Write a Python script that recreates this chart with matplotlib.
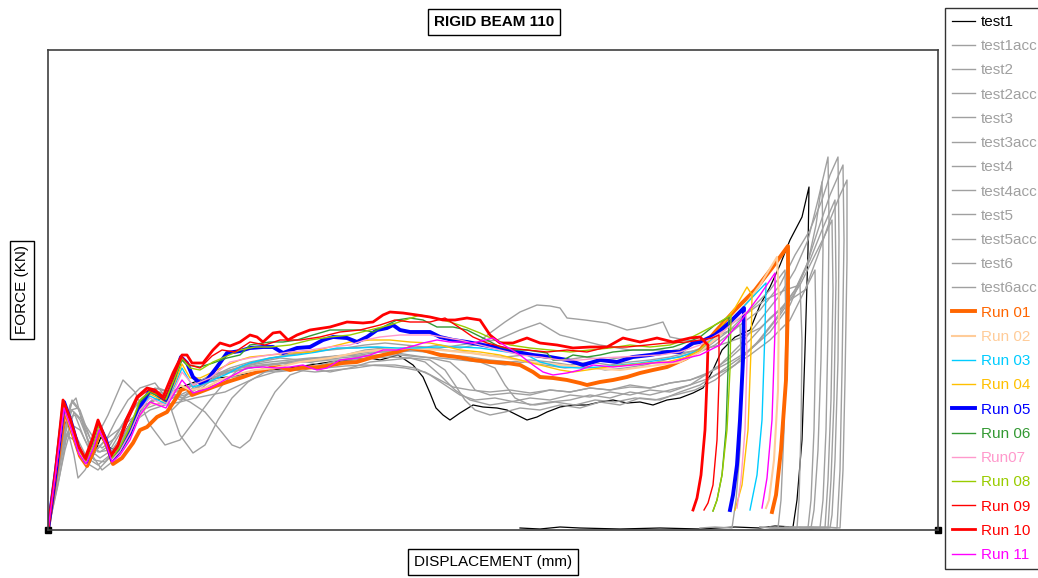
import matplotlib
matplotlib.use('Agg')
import numpy as np
import matplotlib.pyplot as plt

plt.rcParams['font.family'] = ['Liberation Sans', 'DejaVu Sans']

# displacement / force pairs (arbitrary units, origin bottom-left)
test1 = [(0,0),(6,35),(12,75),(18,108),(24,98),(31,78),(40,64),(47,78),(53,93),(60,83),(68,80),(77,98),(87,115),
         (97,125),(107,130),(117,132),(127,140),(139,145),(152,150),(167,152),(182,153),(202,157),(222,160),(242,162),
         (262,165),(282,168),(302,170),(322,172),(332,170),(350,175),(365,165),(375,153),(382,137),(388,122),(395,115),
         (402,110),(412,117),(425,125),(435,123),(449,122),(459,120),(469,115),(479,110),(489,113),(499,118),(512,123),
         (525,125),(539,125),(552,128),(565,130),(579,127),(592,128),(605,125),(619,130),(632,132),(645,137),(655,142),
         (664,158),(674,180),(687,193),(702,200),(712,225),(722,243),(732,265),(742,290),(754,313),(761,343),(760,280),
         (757,180),(754,90),(749,30),(745,3),(727,4),(712,2),(687,3),(652,1),(612,2),(572,1),(532,2),(512,3),(492,1),(472,2)]
test1acc = [(0,0),(8,50),(15,90),(22,125),(28,132),(35,105),(44,75),(54,60),(64,68),(74,90),(84,110),(94,128),(104,138),
            (114,132),(124,120),(134,130),(147,145),(162,155),(182,160),(202,165),(222,168),(242,170),(262,172),(282,173),
            (302,175),(322,178),(342,178),(362,175),(382,172),(402,168),(417,155),(427,140),(442,135),(462,137),(482,135),
            (502,140),(522,138),(542,142),(562,140),(582,145),(602,142),(622,147),(642,150),(657,155),(672,165),(692,185),
            (712,210),(732,235),(747,260),(760,290),(770,330),(780,373),(781,310),(780,200),(778,100),(775,30),(772,2),
            (752,3),(732,1),(712,3)]
test2 = [(0,0),(10,45),(18,90),(26,118),(34,110),(47,90),(60,115),(75,150),(87,138),(102,105),(117,85),(132,90),(147,110),
         (162,130),(177,148),(192,162),(212,168),(232,172),(252,170),(272,165),(292,170),(312,173),(332,175),(352,178),
         (372,180),(392,182),(412,185),(432,188),(449,190),(472,200),(492,207),(512,195),(532,190),(552,185),(582,180),
         (612,180),(632,177),(652,180),(672,185),(692,192),(712,202),(732,220),(747,240),(760,268),(768,305),(774,348),
         (775,280),(773,170),(770,80),(766,20),(763,2),(742,3),(722,2)]
test2acc = [(0,0),(9,52),(17,100),(24,128),(31,120),(40,90),(50,78),(62,80),(74,100),(86,122),(98,134),(110,142),(122,138),
            (134,132),(147,140),(162,150),(177,158),(192,162),(212,165),(232,167),(252,170),(272,172),(292,174),(312,175),
            (332,178),(352,180),(372,182),(392,185),(412,182),(427,185),(442,197),(457,208),(472,218),(489,225),(502,224),
            (512,222),(519,212),(537,210),(559,207),(579,200),(597,203),(615,208),(622,193),(637,190),(652,188),(672,195),
            (692,205),(712,220),(732,245),(747,275),(762,300),(774,330),(782,355),(790,373),(791,290),(790,170),(787,70),
            (784,15),(782,2),(762,3),(742,2),(722,3)]
test3 = [(0,0),(10,55),(18,95),(26,90),(37,68),(50,60),(64,75),(80,100),(97,125),(112,132),(127,135),(142,128),(157,118),
         (172,100),(184,85),(192,82),(202,90),(214,115),(227,138),(242,155),(262,162),(282,158),(302,162),(322,168),
         (342,170),(362,172),(377,168),(392,155),(407,140),(422,130),(442,125),(462,128),(482,132),(502,130),(522,135),
         (542,133),(562,138),(582,135),(602,140),(622,138),(642,145),(662,152),(682,162),(702,175),(722,190),(742,210),
         (757,240),(770,275),(782,310),(792,335),(799,350),(799,270),(797,150),(795,60),(792,2),(777,3),(762,1)]
test3acc = [(0,0),(8,48),(16,90),(23,120),(30,122),(38,100),(48,80),(58,90),(68,110),(80,130),(92,142),(107,147),(120,130),
            (132,95),(145,77),(157,85),(170,110),(184,132),(200,148),(217,158),(237,165),(257,170),(277,173),(297,175),
            (317,180),(337,182),(357,180),(377,178),(397,175),(417,172),(437,168),(457,165),(477,168),(497,165),(517,162),
            (537,164),(557,160),(577,162),(597,165),(617,170),(637,175),(652,178),(667,185),(680,195),(692,205),(694,150),
            (692,80),(688,30),(684,2),(667,3),(652,2)]
test4 = [(0,0),(9,42),(17,80),(24,105),(32,100),(42,80),(52,72),(64,80),(77,98),(90,118),(104,130),(119,135),(134,140),
         (149,148),(164,155),(182,158),(202,162),(222,165),(242,168),(262,168),(282,170),(302,170),(322,172),(342,173),
         (362,172),(382,170),(397,160),(407,145),(417,130),(427,120),(442,115),(457,118),(472,122),(492,120),(512,125),
         (532,122),(552,128),(572,125),(592,132),(612,130),(632,138),(652,145),(672,158),(692,172),(712,190),(732,215),
         (752,245),(767,275),(777,295),(784,310),(785,240),(783,130),(780,50),(777,2),(757,2),(737,3)]
test4acc = [(0,0),(9,54),(17,102),(24,130),(32,120),(42,92),(54,82),(67,92),(80,115),(94,132),(107,142),(120,138),(132,130),
            (145,135),(160,147),(177,158),(197,165),(217,170),(237,175),(257,178),(277,180),(297,182),(317,185),(337,187),
            (357,185),(377,183),(397,180),(417,178),(437,175),(457,173),(477,175),(497,172),(517,170),(537,173),(557,170),
            (577,173),(597,175),(617,178),(637,182),(657,190),(677,202),(697,215),(717,230),(737,240),(752,245),(754,190),
            (753,100),(751,30),(749,2),(732,2)]
test5 = [(0,0),(7,40),(14,82),(20,112),(27,115),(36,92),(46,70),(57,68),(69,82),(82,102),(95,120),(109,132),(124,138),
         (140,142),(156,150),(172,155),(192,160),(212,164),(232,166),(252,168),(272,170),(292,172),(312,174),(332,175),
         (352,175),(372,173),(392,172),(412,170),(432,168),(447,162),(457,145),(467,132),(482,125),(502,128),(522,130),
         (542,135),(562,132),(582,138),(602,135),(622,140),(642,145),(662,158),(682,172),(702,190),(722,212),(742,230),
         (757,240),(767,260),(768,200),(766,100),(763,30),(760,2),(742,3)]
test5acc = [(0,0),(9,50),(17,98),(24,120),(32,110),(42,85),(52,78),(62,85),(74,105),(87,125),(100,135),(112,138),(124,132),
            (137,135),(152,145),(167,155),(182,162),(202,168),(222,172),(242,175),(262,178),(282,180),(302,182),(322,183),
            (342,182),(362,180),(382,178),(402,175),(422,173),(442,170),(462,168),(482,170),(502,168),(522,165),(542,168),
            (562,165),(582,168),(602,170),(622,173),(642,178),(662,185),(682,200),(702,220),(722,240),(737,260),(738,200),
            (736,100),(733,30),(730,2),(712,3)]
test6 = [(0,0),(8,50),(15,90),(20,98),(26,75),(30,52),(37,60),(47,78),(57,90),(70,100),(82,110),(94,120),(107,125),
         (120,130),(132,135),(147,142),(162,148),(180,152),(197,155),(217,158),(237,160),(257,162),(277,162),(297,164),
         (317,165),(337,164),(357,162),(377,158),(392,150),(405,143),(422,140),(442,138),(462,140),(482,137),(502,140),
         (522,138),(542,142),(562,140),(582,143),(602,142),(622,147),(642,150),(662,158),(682,168),(702,180),(722,198),
         (742,225),(757,260),(770,300),(782,335),(795,365),(796,290),(794,160),(792,60),(789,2),(772,3),(752,2)]
test6acc = [(0,0),(8,45),(16,85),(22,105),(29,92),(39,72),(50,65),(62,75),(75,92),(88,110),(102,120),(117,125),(132,128),
            (147,132),(162,135),(177,138),(192,145),(207,152),(227,158),(247,160),(267,158),(287,160),(307,162),(327,165),
            (347,165),(367,162),(382,155),(397,145),(412,135),(427,130),(447,132),(467,128),(487,125),(507,128),(527,125),
            (547,130),(567,128),(587,132),(607,130),(627,135),(647,140),(667,150),(687,165),(707,185),(727,210),(747,240),
            (762,270),(774,300),(787,330),(788,250),(786,130),(783,50),(780,2),(762,3),(742,2)]

run01 = [(0,0),(8,55),(17,120),(24,98),(32,74),(39,64),(46,80),(52,100),(59,84),(65,66),(74,72),(85,87),(92,100),(99,103),
         (109,113),(119,118),(127,130),(133,140),(139,142),(144,135),(152,138),(165,143),(179,148),(195,153),(209,158),
         (222,162),(232,163),(242,160),(252,162),(272,163),(295,167),(309,168),(322,172),(335,175),(349,178),(362,182),
         (375,180),(392,175),(409,173),(425,170),(442,168),(459,167),(472,165),(485,158),(492,153),(505,152),(519,150),
         (532,147),(539,145),(552,148),(565,150),(579,153),(592,157),(605,160),(619,163),(639,172),(652,180),(667,198),
         (687,220),(707,240),(724,262),(740,284),(740,230),(738,150),(733,80),(728,35),(724,18)]
run02 = [(0,0),(8,58),(16,122),(23,102),(31,77),(38,66),(45,82),(51,102),(58,87),(64,69),(72,77),(82,93),(92,115),(102,127),
         (112,125),(122,132),(132,145),(142,140),(157,142),(172,150),(187,155),(207,160),(227,162),(252,168),(282,172),
         (312,178),(332,180),(362,182),(392,180),(422,177),(452,173),(482,168),(512,165),(542,162),(572,160),(602,164),
         (632,168),(652,178),(672,195),(692,218),(712,245),(729,273),(731,230),(730,140),(726,70),(721,30),(718,22)]
run03 = [(0,0),(8,60),(16,124),(23,104),(31,78),(38,67),(45,83),(51,103),(58,88),(64,70),(72,80),(82,98),(92,122),(102,134),
         (110,130),(118,126),(127,145),(134,162),(145,143),(155,146),(165,150),(179,156),(192,163),(202,167),(222,172),
         (249,175),(269,178),(289,182),(309,182),(329,183),(349,182),(369,182),(389,183),(412,183),(432,182),(459,178),
         (479,175),(492,168),(512,163),(532,162),(552,163),(572,165),(592,167),(612,170),(632,173),(652,180),(672,198),
         (697,225),(718,247),(717,200),(714,110),(709,55),(702,20)]
run04 = [(0,0),(8,61),(16,125),(23,105),(31,79),(38,68),(45,84),(51,104),(58,89),(64,71),(72,81),(82,100),(92,125),(102,136),
         (110,132),(118,128),(127,148),(134,166),(142,152),(152,152),(165,158),(179,165),(192,170),(202,173),(222,175),
         (242,177),(262,178),(282,183),(302,188),(322,190),(342,190),(362,188),(382,187),(392,185),(412,180),(432,178),
         (452,175),(472,170),(492,165),(512,160),(525,158),(539,160),(559,163),(579,165),(599,167),(619,168),(639,173),
         (652,180),(667,195),(687,222),(699,243),(704,235),(703,180),(700,100),(694,45),(687,20)]
run05 = [(0,0),(8,60),(16,128),(23,108),(31,80),(38,68),(45,85),(51,105),(58,90),(64,70),(72,80),(82,97),(92,123),(102,140),
         (110,135),(118,130),(126,152),(133,173),(139,167),(145,153),(152,147),(159,150),(169,163),(179,177),(192,179),
         (202,182),(215,183),(225,183),(235,177),(249,182),(262,183),(275,190),(285,193),(299,192),(309,188),(319,193),
         (329,200),(339,202),(345,205),(352,200),(362,198),(382,198),(392,193),(405,190),(419,188),(435,185),(452,182),
         (469,178),(485,175),(502,173),(519,170),(535,165),(552,170),(569,168),(585,173),(602,175),(619,178),(632,178),
         (639,183),(645,187),(652,188),(667,195),(682,208),(696,222),(695,170),(692,110),(689,65),(685,35),(682,20)]
run06 = [(0,0),(8,61),(16,126),(23,106),(31,79),(38,68),(45,84),(51,104),(58,89),(64,71),(72,82),(82,102),(92,128),(102,138),
         (110,134),(118,130),(127,152),(134,170),(139,165),(152,163),(165,167),(179,172),(192,175),(202,185),(222,188),
         (235,188),(249,190),(265,195),(282,200),(299,200),(315,200),(325,198),(335,203),(349,210),(362,212),(375,210),
         (389,203),(405,203),(419,200),(439,190),(452,183),(465,180),(479,180),(499,177),(505,170),(515,170),(525,175),
         (539,173),(552,175),(565,178),(585,180),(605,180),(625,183),(645,190),(652,193),(667,205),(681,213),(680,160),
         (678,100),(674,55),(669,30),(665,19)]
run07 = [(0,0),(8,60),(16,125),(23,105),(31,78),(38,67),(45,83),(51,103),(58,88),(64,70),(72,79),(82,97),(92,120),(102,132),
         (110,128),(118,125),(127,142),(134,158),(145,145),(162,152),(182,168),(202,172),(222,175),(242,178),(262,180),
         (282,183),(302,185),(317,190),(332,193),(352,195),(382,195),(412,190),(432,185),(452,180),(472,175),(492,173),
         (512,170),(532,170),(552,172),(572,173),(592,174),(612,175),(632,178),(652,185),(677,200),(698,218),(699,170),
         (697,100),(693,50),(689,22)]
run08 = [(0,0),(8,62),(16,127),(23,107),(31,80),(38,69),(45,85),(51,105),(58,90),(64,72),(72,83),(82,103),(92,130),(102,139),
         (110,135),(118,131),(127,153),(134,172),(142,162),(152,160),(165,168),(179,174),(192,180),(207,183),(222,183),
         (242,185),(262,190),(282,193),(302,195),(322,200),(342,205),(357,210),(372,215),(387,212),(402,208),(417,203),
         (432,197),(447,190),(462,185),(482,182),(502,180),(522,178),(542,180),(562,182),(582,185),(602,183),(622,185),
         (642,192),(652,197),(667,205),(683,215),(682,160),(679,100),(674,55),(669,30),(665,19)]
run09 = [(0,0),(8,62),(15,127),(22,110),(30,83),(38,70),(44,87),(50,107),(56,93),(63,73),(70,83),(79,107),(90,132),(100,140),
         (108,137),(116,130),(126,154),(134,173),(142,165),(152,162),(164,174),(174,180),(187,178),(202,188),(217,185),
         (232,190),(252,190),(272,193),(292,198),(312,200),(332,205),(347,210),(362,208),(382,208),(397,212),(412,202),
         (425,193),(439,187),(459,182),(479,180),(499,178),(519,180),(539,178),(559,183),(579,183),(599,185),(619,187),
         (639,188),(652,190),(664,192),(671,195),(671,150),(669,90),(665,45),(660,27),(656,20)]
run10 = [(0,0),(8,64),(15,130),(22,112),(30,85),(37,72),(44,90),(50,110),(56,95),(63,75),(70,85),(78,110),(89,133),(99,142),
         (107,140),(115,133),(125,157),(134,175),(139,175),(144,167),(155,167),(165,180),(172,187),(182,184),(192,188),
         (202,195),(209,193),(215,188),(225,197),(232,198),(240,190),(249,195),(262,200),(282,203),(299,208),(315,207),
         (325,208),(335,215),(342,218),(355,217),(369,215),(382,213),(395,210),(407,210),(419,212),(432,210),(442,195),
         (452,187),(465,187),(479,192),(492,187),(509,185),(525,182),(542,183),(559,183),(575,192),(592,188),(609,192),
         (625,188),(642,192),(652,193),(660,185),(659,150),(657,100),(653,55),(649,32),(645,20)]
run11 = [(0,0),(8,60),(16,122),(23,102),(31,76),(38,66),(45,81),(51,100),(58,86),(64,68),(72,75),(82,90),(92,115),(102,128),
         (110,125),(118,122),(127,138),(134,150),(145,137),(162,142),(182,153),(199,162),(215,163),(229,162),(242,163),
         (255,165),(269,160),(279,162),(292,170),(309,172),(322,175),(335,180),(349,180),(362,183),(375,187),(389,190),
         (402,188),(412,188),(425,187),(445,192),(459,183),(472,175),(485,165),(495,158),(505,155),(519,157),(532,160),
         (545,165),(565,163),(585,165),(605,167),(625,168),(639,172),(652,175),(672,185),(692,208),(712,235),(727,257),
         (727,200),(724,110),(719,52),(714,22)]

GRAY = '#A0A0A0'
series = [
    ('test1', test1, '#000000', 0.9),
    ('test1acc', test1acc, GRAY, 1.0),
    ('test2', test2, GRAY, 1.0),
    ('test2acc', test2acc, GRAY, 1.0),
    ('test3', test3, GRAY, 1.0),
    ('test3acc', test3acc, GRAY, 1.0),
    ('test4', test4, GRAY, 1.0),
    ('test4acc', test4acc, GRAY, 1.0),
    ('test5', test5, GRAY, 1.0),
    ('test5acc', test5acc, GRAY, 1.0),
    ('test6', test6, GRAY, 1.0),
    ('test6acc', test6acc, GRAY, 1.0),
    ('Run 01', run01, '#FF6600', 2.8),
    ('Run 02', run02, '#FFCC99', 1.5),
    ('Run 03', run03, '#00CCFF', 1.0),
    ('Run 04', run04, '#FFC000', 1.0),
    ('Run 05', run05, '#0000FF', 2.8),
    ('Run 06', run06, '#339933', 1.0),
    ('Run07', run07, '#FF99CC', 1.0),
    ('Run 08', run08, '#99CC00', 1.0),
    ('Run 09', run09, '#FF0000', 1.0),
    ('Run 10', run10, '#FF0000', 2.0),
    ('Run 11', run11, '#FF00FF', 1.0),
]

W, H = 1038, 578
fig = plt.figure(figsize=(W / 100, H / 100), dpi=100)
ax = fig.add_axes([48 / W, 48 / H, 890 / W, 480 / H])

for name, pts, col, lw in series:
    xy = np.array(pts, dtype=float)
    ax.plot(xy[:, 0], xy[:, 1], color=col, lw=lw, label=name, solid_joinstyle='round')

ax.set_xlim(0, 890)
ax.set_ylim(0, 480)
ax.set_xticks([])
ax.set_yticks([])
for sp in ax.spines.values():
    sp.set_color('#404040')
    sp.set_linewidth(1.2)
x0, x1 = ax.get_xlim()
ax.plot([x0, x1], [0, 0], 's', color='black', ms=4, clip_on=False)

# boxed labels
fig.text(494 / W, 1 - 22 / H, 'RIGID BEAM 110', ha='center', va='center', fontsize=11, weight='bold',
         bbox=dict(boxstyle='square,pad=0.4', fc='white', ec='black', lw=1))
fig.text(493 / W, 1 - 562 / H, 'DISPLACEMENT (mm)', ha='center', va='center', fontsize=11,
         bbox=dict(boxstyle='square,pad=0.4', fc='white', ec='black', lw=1))
fig.text(22 / W, 1 - 290 / H, 'FORCE (KN)', ha='center', va='center', fontsize=11, rotation=90,
         bbox=dict(boxstyle='square,pad=0.3', fc='white', ec='black', lw=1))

leg = fig.legend(loc='upper left', bbox_to_anchor=(945 / W, 1 - 8 / H), borderaxespad=0, fontsize=11,
                 frameon=True, fancybox=False, edgecolor='black', handlelength=1.5, handletextpad=0.4,
                 labelspacing=0.67, borderpad=0.45)
leg.get_frame().set_linewidth(1.0)
for txt, ln in zip(leg.get_texts(), leg.get_lines()):
    txt.set_color(ln.get_color())

fig.savefig('out.png', dpi=100)
